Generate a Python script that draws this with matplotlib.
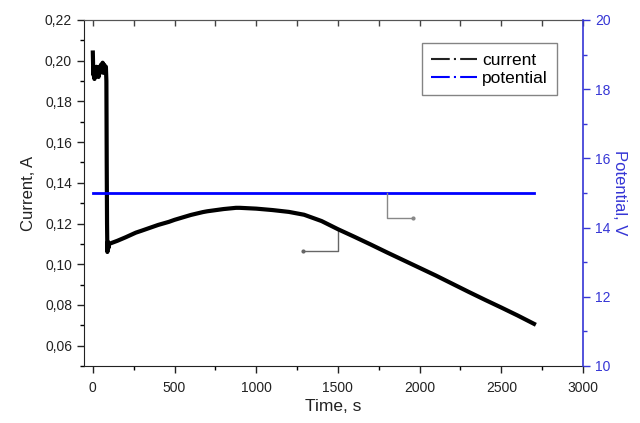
import matplotlib
matplotlib.use("Agg")
import matplotlib.pyplot as plt
from matplotlib.ticker import MultipleLocator, FuncFormatter
from matplotlib.lines import Line2D

plt.rcParams['font.family'] = ['Liberation Sans', 'DejaVu Sans']

# Current vs time
time_s = [0, 3, 6, 10, 14, 18, 22, 26, 30, 35, 40, 45, 50, 55, 60, 65, 70, 75, 80, 83,
          85, 87, 89, 92, 96, 100, 150, 200, 263, 300, 400, 465, 500, 600, 673, 700,
          800, 876, 900, 1000, 1100, 1200, 1293, 1400, 1500, 1600, 1700, 1800, 1900,
          2000, 2100, 2200, 2300, 2400, 2500, 2600, 2700]
current_A = [0.204, 0.193, 0.197, 0.191, 0.196, 0.192, 0.197, 0.193, 0.196, 0.192,
             0.197, 0.194, 0.198, 0.195, 0.199, 0.194, 0.198, 0.196, 0.197, 0.190,
             0.150, 0.120, 0.106, 0.111, 0.108, 0.110, 0.1115, 0.1132, 0.1155, 0.1165,
             0.1193, 0.1208, 0.1218, 0.1242, 0.1256, 0.1260, 0.1271, 0.1277, 0.1277,
             0.1273, 0.1266, 0.1257, 0.1243, 0.1212, 0.1172, 0.1135, 0.1097, 0.1058,
             0.1020, 0.0982, 0.0944, 0.0904, 0.0864, 0.0825, 0.0787, 0.0748, 0.0707]

# Potential vs time
pot_time_s = [0, 2700]
potential_V = [15, 15]

xlabel = "Time, s"
ylabel_left = "Current, A"
ylabel_right = "Potential, V"
legend_labels = ["current", "potential"]

BLUE = "#0000ff"
AXBLUE = "#3535d5"

fig = plt.figure(figsize=(6.4, 4.23), dpi=100)
ax = fig.add_axes([0.131, 0.1348, 0.780, 0.818])
ax2 = ax.twinx()

ax.plot(time_s, current_A, color="black", lw=3.0, solid_joinstyle="round", zorder=3)
ax2.plot(pot_time_s, potential_V, color=BLUE, lw=2.0)

ax.set_xlim(-55, 3000)
ax.set_ylim(0.05, 0.22)
ax2.set_ylim(10, 20)

ax.xaxis.set_major_locator(MultipleLocator(500))
ax.xaxis.set_minor_locator(MultipleLocator(250))
ax.yaxis.set_major_locator(MultipleLocator(0.02))
ax.yaxis.set_minor_locator(MultipleLocator(0.01))
ax.yaxis.set_major_formatter(FuncFormatter(lambda v, p: f"{v:.2f}".replace('.', ',')))
ax2.yaxis.set_major_locator(MultipleLocator(2))
ax2.yaxis.set_minor_locator(MultipleLocator(1))

ax.tick_params(axis='both', which='major', direction='out', length=5, width=1, labelsize=10, colors='#222222')
ax.tick_params(axis='both', which='minor', direction='out', length=3, width=1)
ax.tick_params(axis='x', pad=6)
ax2.tick_params(axis='y', which='major', direction='out', length=5, width=1, colors=AXBLUE, labelsize=10)
ax2.tick_params(axis='y', which='minor', direction='out', length=3, width=1, colors=AXBLUE)

top = ax.secondary_xaxis('top')
top.xaxis.set_major_locator(MultipleLocator(250))
top.tick_params(direction='in', length=4, width=1, labeltop=False, colors='#444444')
top.spines['top'].set_color('#555555')

for s in ['left', 'bottom']:
    ax.spines[s].set_color('#222222')
ax.spines['right'].set_visible(False)
ax.spines['top'].set_color('#555555')
ax2.spines['right'].set_color(AXBLUE)
ax2.spines['right'].set_linewidth(1.2)
ax2.spines['left'].set_visible(False)
ax2.spines['top'].set_visible(False)
ax2.spines['bottom'].set_visible(False)

ax.set_xlabel(xlabel, fontsize=12.5, color='#222222', labelpad=3)
ax.set_ylabel(ylabel_left, fontsize=12, color='#222222', labelpad=6)
ax2.set_ylabel(ylabel_right, fontsize=12, color=AXBLUE, rotation=270, labelpad=12)

# Axis indicator lines
ax.plot([1286, 1500, 1500], [0.1067, 0.1067, 0.117], color='#666666', lw=1)
ax.plot([1286], [0.1067], 'o', color='#666666', ms=2)
ax2.plot([1800, 1800, 1960], [15, 14.29, 14.29], color='#888888', lw=1)
ax2.plot([1960], [14.29], 'o', color='#888888', ms=2)

dashdot = (0, (9, 2, 1, 2, 9, 100))
handles = [Line2D([], [], color='#222222', ls=dashdot, lw=1.5),
           Line2D([], [], color=BLUE, ls=dashdot, lw=1.5)]
leg = ax2.legend(handles, legend_labels, loc='upper right', bbox_to_anchor=(0.948, 0.933),
                 borderaxespad=0, fancybox=False, edgecolor='#666666', fontsize=12.5,
                 handlelength=2.6, handletextpad=0.3, borderpad=0.55, labelspacing=0.15)
leg.get_frame().set_linewidth(1)

fig.savefig("out.png", dpi=100)
